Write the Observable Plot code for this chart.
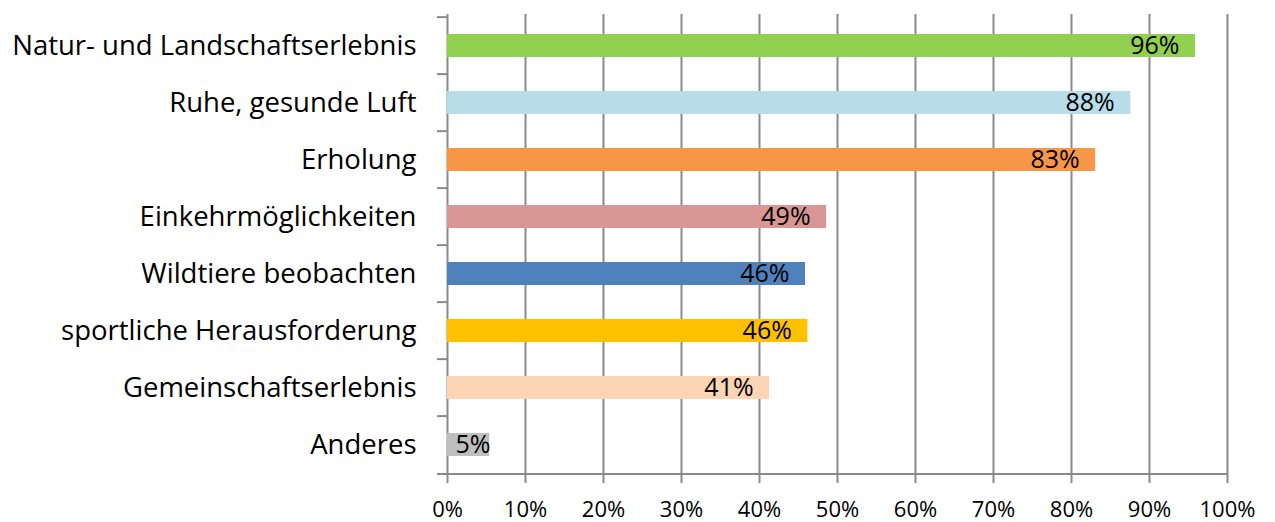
<!DOCTYPE html>
<html>
<head>
<meta charset="utf-8">
<script src="https://cdn.jsdelivr.net/npm/d3@7"></script>
<script src="https://cdn.jsdelivr.net/npm/@observablehq/plot@0.6"></script>
<style>
  body { margin: 0; background: #fff; }
</style>
</head>
<body>
<div id="chart"></div>
<script>
const categories = [
  "Natur- und Landschaftserlebnis",
  "Ruhe, gesunde Luft",
  "Erholung",
  "Einkehrmöglichkeiten",
  "Wildtiere beobachten",
  "sportliche Herausforderung",
  "Gemeinschaftserlebnis",
  "Anderes"
];
const values = [0.959, 0.876, 0.831, 0.486, 0.459, 0.462, 0.413, 0.054];
const labels = ["96%", "88%", "83%", "49%", "46%", "46%", "41%", "5%"];
const colors = ["#92D050", "#B7DEE8", "#F79646", "#D99694", "#4F81BD", "#FFC000", "#FCD5B5", "#BFBFBF"];
const xTicks = [0, 0.1, 0.2, 0.3, 0.4, 0.5, 0.6, 0.7, 0.8, 0.9, 1.0];

const data = categories.map((c, i) => ({cat: c, value: values[i], label: labels[i], color: colors[i]}));

const W = 1275, H = 522, mT = 14, mB = 46, mL = 447, mR = 48;
const step = (H - mT - mB) / categories.length;
const gridColor = "#8a8a8a";
const tickLen = 10 / (W - mL - mR); // in data units of x

const chart = Plot.plot({
  width: W,
  height: H,
  marginLeft: mL,
  marginRight: mR,
  marginTop: mT,
  marginBottom: mB,
  x: {domain: [0, 1]},
  y: {domain: categories, paddingInner: 0.6, paddingOuter: 0.3},
  style: {fontFamily: "'Open Sans', sans-serif", fontSize: "24px", color: "#000", background: "#fff", overflow: "visible"},
  marks: [
    Plot.ruleX(xTicks, {stroke: gridColor, strokeWidth: 2}),
    Plot.ruleY(categories, {y: d => d, x1: -tickLen, x2: 0, dy: -step / 2, stroke: gridColor, strokeWidth: 2}),
    Plot.ruleY([categories[categories.length - 1]], {y: d => d, x1: -tickLen, x2: 1, dy: step / 2, stroke: gridColor, strokeWidth: 2}),
    Plot.barX(data, {x: "value", y: "cat", fill: "color"}),
    Plot.text(data.filter(d => d.value > 0.1), {x: "value", y: "cat", text: "label", textAnchor: "end", dx: -16, fill: "#000", fontSize: 25}),
    Plot.text(data.filter(d => d.value <= 0.1), {x: 0, y: "cat", text: "label", textAnchor: "start", dx: 8, fill: "#000", fontSize: 25}),
    Plot.axisX({ticks: xTicks, tickFormat: d3.format(".0%"), tickSize: 7, tickPadding: 18, stroke: gridColor, strokeWidth: 2, strokeOpacity: 1, fontSize: 22, label: null}),
    Plot.axisY({tickSize: 0, tickPadding: 31, fontSize: 27.5, label: null})
  ]
});
document.getElementById("chart").appendChild(chart);
</script>
</body>
</html>
